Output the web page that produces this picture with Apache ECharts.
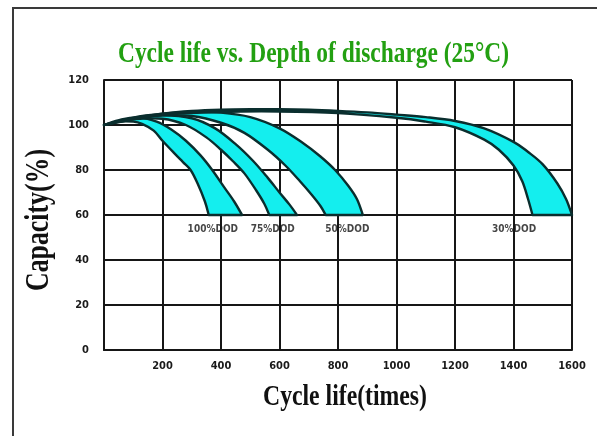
<!DOCTYPE html>
<html>
<head>
<meta charset="utf-8">
<script src="https://cdn.jsdelivr.net/npm/echarts@6/dist/echarts.min.js"></script>
<style>html,body{margin:0;padding:0;background:#fff;}#c{width:597px;height:436px;}</style>
</head>
<body>
<div id="c"></div>
<script>
// ---- data ----
const titleText = 'Cycle life vs. Depth of discharge (25°C)';
const xTitle = 'Cycle life(times)';
const yTitle = 'Capacity(%)';
const xTicks = [0, 200, 400, 600, 800, 1000, 1200, 1400, 1600];
const yTicks = [0, 20, 40, 60, 80, 100, 120];

// 100% DOD band
const dod100LoX = [0, 50, 100, 130, 170, 200, 240, 270, 296, 320, 345, 358];
const dod100LoY = [100, 101.5, 101.5, 100.5, 97.5, 93, 87.5, 83.5, 80, 74, 66, 60];
const dod100HiX = [0, 60, 120, 180, 230, 280, 330, 370, 410, 445, 472];
const dod100HiY = [100, 102.5, 103.3, 101.5, 98, 93, 86.5, 80, 72.5, 66, 60];
// 75% DOD band
const dod75LoX = [0, 100, 200, 280, 350, 400, 440, 480, 520, 548, 565];
const dod75LoY = [100, 102.5, 102.8, 100, 94.5, 89, 84, 78.5, 71, 65, 60];
const dod75HiX = [0, 100, 200, 300, 380, 450, 510, 560, 600, 635, 660];
const dod75HiY = [100, 103, 104.3, 103, 98.5, 91.5, 84, 76.5, 70, 64.5, 60];
// 50% DOD band
const dod50LoX = [0, 100, 200, 300, 400, 480, 560, 620, 670, 710, 740, 758];
const dod50LoY = [100, 103, 104.3, 104, 101, 96.5, 89, 82, 75, 69, 64, 60];
const dod50HiX = [0, 100, 200, 300, 400, 500, 600, 680, 740, 790, 835, 865, 885];
const dod50HiY = [100, 103.3, 105, 105.8, 105.5, 103.5, 98.5, 92, 86, 80, 73, 67, 60];
// 30% DOD band
const dod30LoX = [0, 200, 400, 600, 800, 1000, 1100, 1200, 1300, 1350, 1400, 1430, 1450, 1465];
const dod30LoY = [100, 104.5, 105.8, 106, 105.3, 103.2, 101.5, 99, 93.5, 89, 82, 75, 67, 60];
const dod30HiX = [0, 100, 200, 300, 400, 500, 600, 700, 800, 900, 1000, 1100, 1200, 1300, 1400, 1450, 1500, 1550, 1580, 1600];
const dod30HiY = [100, 103, 105, 106.2, 106.8, 107, 107, 106.8, 106.3, 105.6, 104.6, 103.5, 101.8, 98.5, 92.5, 88, 82.5, 74, 67, 60];

const bandNames = ['100%DOD', '75%DOD', '50%DOD', '30%DOD'];
const bandLabelX = [372, 577, 832, 1402];
const bandLabelY = [53.5, 53.5, 53.5, 53.5];

const bands = [
  [dod100LoX, dod100LoY, dod100HiX, dod100HiY],
  [dod75LoX, dod75LoY, dod75HiX, dod75HiY],
  [dod50LoX, dod50LoY, dod50HiX, dod50HiY],
  [dod30LoX, dod30LoY, dod30HiX, dod30HiY]
];

// ---- helpers ----
function measure(text, font) {
  const cv = document.createElement('canvas').getContext('2d');
  cv.font = font;
  return cv.measureText(text).width;
}
function crPath(pts, moveFirst) {
  let d = moveFirst ? ('M' + pts[0][0] + ' ' + pts[0][1]) : ('L' + pts[0][0] + ' ' + pts[0][1]);
  for (let i = 0; i < pts.length - 1; i++) {
    const p0 = pts[i - 1] || pts[i], p1 = pts[i], p2 = pts[i + 1], p3 = pts[i + 2] || pts[i + 1];
    const c1x = p1[0] + (p2[0] - p0[0]) / 6, c1y = p1[1] + (p2[1] - p0[1]) / 6;
    const c2x = p2[0] - (p3[0] - p1[0]) / 6, c2y = p2[1] - (p3[1] - p1[1]) / 6;
    d += 'C' + c1x + ' ' + c1y + ' ' + c2x + ' ' + c2y + ' ' + p2[0] + ' ' + p2[1];
  }
  return d;
}

const serifBold = 'bold 30px "Liberation Serif", "Times New Roman", serif';
const titleScale = 391 / measure(titleText, serifBold);
const xTitleFont = 'bold 29px "Liberation Serif", "Times New Roman", serif';
const xTitleScale = 164 / measure(xTitle, xTitleFont);
const yTitleFont = 'bold 33px "Liberation Serif", "Times New Roman", serif';
const yTitleScale = 142 / measure(yTitle, yTitleFont);

const chart = echarts.init(document.getElementById('c'), null, { renderer: 'canvas' });

const lineCol = '#161616';
const series = bands.map(function (b, k) {
  return {
    type: 'custom',
    name: bandNames[k],
    data: [[0, 100]],
    z: 3,
    renderItem: function (params, api) {
      const lo = b[0].map(function (x, i) { return api.coord([x, b[1][i]]); });
      const hi = b[2].map(function (x, i) { return api.coord([x, b[3][i]]); });
      const d = crPath(hi, true) + crPath(lo.slice().reverse(), false) + 'Z';
      return {
        type: 'path',
        shape: { pathData: d },
        style: { fill: '#14eeee', stroke: '#0a2e2e', lineWidth: 2.4, lineJoin: 'round' }
      };
    }
  };
});
series.push({
  type: 'scatter',
  symbolSize: 0,
  z: 5,
  data: bandNames.map(function (n, i) { return { name: n, value: [bandLabelX[i], bandLabelY[i]] }; }),
  label: {
    show: true, position: 'inside', formatter: '{b}',
    color: '#151515', fontSize: 10, fontWeight: 'bold',
    fontFamily: '"Liberation Sans Narrow", "DejaVu Sans Condensed", sans-serif'
  },
  silent: true
});

chart.setOption({
  animation: false,
  backgroundColor: '#ffffff',
  grid: { left: 104, right: 25, top: 80, bottom: 86 },
  xAxis: {
    type: 'value', min: xTicks[0], max: xTicks[xTicks.length - 1], interval: 200,
    axisLine: { show: true, lineStyle: { color: lineCol, width: 2 } },
    axisTick: { show: false },
    splitLine: { show: true, lineStyle: { color: lineCol, width: 2 } },
    axisLabel: {
      margin: 11, color: '#1a1a1a', fontSize: 11, fontWeight: 'bold',
      fontFamily: '"Liberation Sans Narrow", "DejaVu Sans Condensed", sans-serif',
      formatter: function (v) { return v === 0 ? '' : String(v); }
    }
  },
  yAxis: {
    type: 'value', min: yTicks[0], max: yTicks[yTicks.length - 1], interval: 20,
    axisLine: { show: true, lineStyle: { color: lineCol, width: 2 } },
    axisTick: { show: false },
    splitLine: { show: true, lineStyle: { color: lineCol, width: 2 } },
    axisLabel: {
      margin: 15, color: '#1a1a1a', fontSize: 11, fontWeight: 'bold',
      fontFamily: '"Liberation Sans Narrow", "DejaVu Sans Condensed", sans-serif'
    }
  },
  graphic: [
    { type: 'rect', shape: { x: 13, y: 8, width: 700, height: 500 }, style: { fill: 'none', stroke: '#3a3a3a', lineWidth: 2 }, silent: true },
    { type: 'text', x: 313.5, y: 54, scaleX: titleScale, style: { text: titleText, font: serifBold, fill: '#23a012', textAlign: 'center', textVerticalAlign: 'middle' } },
    { type: 'text', x: 345, y: 398, scaleX: xTitleScale, style: { text: xTitle, font: xTitleFont, fill: '#111', textAlign: 'center', textVerticalAlign: 'middle' } },
    { type: 'text', x: 39, y: 220, rotation: Math.PI / 2, scaleX: yTitleScale, style: { text: yTitle, font: yTitleFont, fill: '#111', textAlign: 'center', textVerticalAlign: 'middle' } }
  ],
  series: series
});
</script>
</body>
</html>
